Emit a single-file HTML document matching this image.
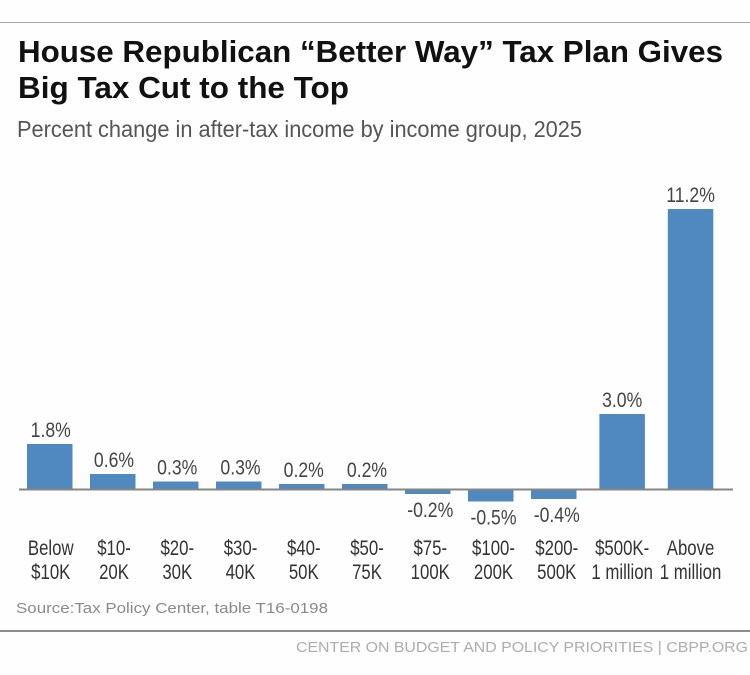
<!DOCTYPE html>
<html lang="en">
<head>
<meta charset="utf-8">
<title>House Republican "Better Way" Tax Plan</title>
<style>
html,body{margin:0;padding:0;background:#fff;width:750px;height:675px;overflow:hidden}
svg{display:block;font-family:"Liberation Sans",Arial,sans-serif}
</style>
</head>
<body>
<svg id="chart" width="750" height="675" viewBox="0 0 750 675" xmlns="http://www.w3.org/2000/svg">
  <rect x="0" y="0" width="750" height="675" fill="#fefefe"/>
  <rect x="0" y="22" width="750" height="1" fill="#aaaaaa"/>
  <g style="filter:blur(.35px)">
    <text x="18" y="62" font-size="31" font-weight="700" fill="#111" textLength="705" lengthAdjust="spacingAndGlyphs">House Republican “Better Way” Tax Plan Gives</text>
    <text x="18" y="98" font-size="31" font-weight="700" fill="#111" textLength="331" lengthAdjust="spacingAndGlyphs">Big Tax Cut to the Top</text>
    <text x="17" y="137" font-size="23.5" fill="#555" textLength="565" lengthAdjust="spacingAndGlyphs">Percent change in after-tax income by income group, 2025</text>
    <g id="plot"></g>
    <text x="16" y="613" font-size="15" fill="#8a8a8a" textLength="312" lengthAdjust="spacingAndGlyphs">Source:Tax Policy Center, table T16-0198</text>
    <text x="296" y="652" font-size="14.5" fill="#adadad" textLength="452" lengthAdjust="spacingAndGlyphs">CENTER ON BUDGET AND POLICY PRIORITIES | CBPP.ORG</text>
  </g>
  <rect x="0" y="630" width="750" height="2" fill="#8c8c8c"/>
</svg>
<script>
const categoriesTop = ['Below', '$10-', '$20-', '$30-', '$40-', '$50-', '$75-', '$100-', '$200-', '$500K-', 'Above'];
const categoriesBottom = ['$10K', '20K', '30K', '40K', '50K', '75K', '100K', '200K', '500K', '1 million', '1 million'];
const values = [1.8, 0.6, 0.3, 0.3, 0.2, 0.2, -0.2, -0.5, -0.4, 3.0, 11.2];
const valueLabels = ['1.8%', '0.6%', '0.3%', '0.3%', '0.2%', '0.2%', '-0.2%', '-0.5%', '-0.4%', '3.0%', '11.2%'];

const svgNS = 'http://www.w3.org/2000/svg';
const plot = document.getElementById('plot');
const baselineY = 489;
const pxPerUnit = 25;
const barWidth = 45.5;

function yScale(v) {
  return baselineY - v * pxPerUnit;
}
function xLeft(i) {
  return i <= 8 ? 27 + 63 * i : 531 + 68.4 * (i - 8);
}
function xCenter(i) {
  return xLeft(i) + barWidth / 2;
}
function labelShift(i) {
  return i === 0 ? 1 : (i < 9 ? 1 + i * 0.25 : 0);
}
function addText(str, x, y, size, fill, squeeze) {
  const t = document.createElementNS(svgNS, 'text');
  t.setAttribute('transform', 'translate(' + x + ' ' + y + ') scale(' + squeeze + ' 1)');
  t.setAttribute('text-anchor', 'middle');
  t.setAttribute('font-size', size);
  t.setAttribute('fill', fill);
  t.textContent = str;
  plot.appendChild(t);
  return t;
}

values.forEach(function (v, i) {
  const top = Math.min(yScale(v), baselineY);
  const bottom = Math.max(yScale(v), baselineY);
  const bar = document.createElementNS(svgNS, 'rect');
  
  
  bar.setAttribute('x', xLeft(i));
  bar.setAttribute('y', top);
  bar.setAttribute('width', barWidth);
  bar.setAttribute('height', bottom - top);
  bar.setAttribute('fill', '#5089bf');
  plot.appendChild(bar);

  const valueY = v >= 0 ? top - 7 : bottom + 23;
  const valueText = addText(valueLabels[i], xCenter(i) + labelShift(i), valueY, 21, '#444', 0.84);
  
  

  const upper = addText(categoriesTop[i], xCenter(i) + labelShift(i), 555, 21, '#333', 0.8);
  
  

  const lower = addText(categoriesBottom[i], xCenter(i) + labelShift(i), 579, 21, '#333', 0.8);
  
  
});

const axis = document.createElementNS(svgNS, 'rect');


axis.setAttribute('x', 19);
axis.setAttribute('y', baselineY - 0.5);
axis.setAttribute('width', 714);
axis.setAttribute('height', 2);
axis.setAttribute('fill', '#858585');
plot.appendChild(axis);
</script>
</body>
</html>
